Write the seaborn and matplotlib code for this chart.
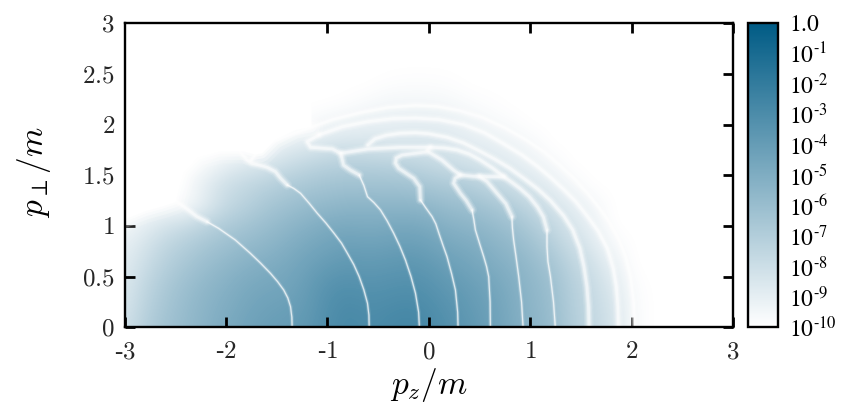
import numpy as np
import pandas as pd
import matplotlib
matplotlib.use('Agg')
import matplotlib.pyplot as plt
import seaborn as sns

# log10 of the yield, rows go up from p_perp = 0 in steps of 0.2
pz_grid = [-3.0, -2.8, -2.6, -2.4, -2.2, -2.0, -1.8, -1.6, -1.4, -1.2, -1.0, -0.8, -0.6, -0.4, -0.2, 0.0,
           0.2, 0.4, 0.6, 0.8, 1.0, 1.2, 1.4, 1.6, 1.8, 2.0, 2.2, 2.4, 2.6, 2.8, 3.0]
pperp_grid = [0.0, 0.2, 0.4, 0.6, 0.8, 1.0, 1.2, 1.4, 1.6, 1.8, 2.0, 2.2, 2.4, 2.6, 2.8, 3.0]

row_00 = [-8.2, -7.0, -6.3, -5.8, -5.3, -4.8, -4.4, -4.1, -4.0, -3.7, -3.1, -2.8, -3.0, -2.8, -2.6, -2.9, -3.3, -3.7, -4.2, -4.8, -5.4, -5.9, -6.9, -7.6, -8.2, -9.7, -10, -10, -10, -10, -10]
row_02 = [-8.4, -7.3, -6.5, -5.9, -5.4, -5.0, -4.6, -4.3, -4.2, -3.9, -3.2, -2.9, -3.1, -3.0, -2.9, -3.1, -3.5, -3.9, -4.3, -4.9, -5.5, -6.0, -7.0, -7.7, -8.3, -9.7, -10, -10, -10, -10, -10]
row_04 = [-8.6, -7.5, -6.7, -6.1, -5.6, -5.2, -4.8, -4.6, -4.5, -4.0, -3.4, -3.2, -3.4, -3.3, -3.2, -3.4, -3.8, -4.1, -4.5, -5.0, -5.6, -6.1, -7.1, -7.8, -8.6, -9.8, -10, -10, -10, -10, -10]
row_06 = [-8.8, -7.9, -7.1, -6.5, -6.0, -5.6, -5.2, -5.0, -4.7, -4.3, -3.9, -3.7, -3.8, -3.7, -3.6, -3.8, -4.2, -4.5, -4.9, -5.3, -5.8, -6.4, -7.4, -8.1, -9.0, -10, -10, -10, -10, -10, -10]
row_08 = [-9.0, -8.3, -7.5, -7.0, -6.5, -6.1, -5.8, -5.5, -5.1, -4.7, -4.4, -4.2, -4.3, -4.2, -4.1, -4.3, -4.7, -4.9, -5.3, -5.7, -6.2, -7.0, -7.9, -8.6, -9.6, -10, -10, -10, -10, -10, -10]
row_10 = [-9.5, -8.9, -8.3, -7.8, -7.3, -6.8, -6.4, -6.0, -5.6, -5.2, -4.9, -4.8, -4.9, -4.8, -4.7, -4.9, -5.3, -5.5, -5.8, -6.2, -6.8, -7.6, -8.4, -9.1, -10, -10, -10, -10, -10, -10, -10]
row_12 = [-10, -9.8, -9.6, -9.8, -8.8, -7.7, -7.2, -6.6, -6.2, -5.9, -5.7, -5.5, -5.5, -5.5, -5.5, -5.7, -6.0, -6.2, -6.5, -7.0, -7.6, -8.3, -8.9, -9.5, -10, -10, -10, -10, -10, -10, -10]
row_14 = [-10, -10, -10, -9.8, -8.8, -8.0, -7.6, -7.2, -6.9, -6.6, -6.4, -6.3, -6.3, -6.3, -6.4, -6.6, -6.8, -7.0, -7.5, -8.0, -8.5, -9.0, -9.6, -10, -10, -10, -10, -10, -10, -10, -10]
row_16 = [-10, -10, -10, -10, -9.7, -9.0, -8.6, -8.4, -7.9, -7.5, -7.2, -7.1, -7.1, -7.2, -7.3, -7.6, -7.9, -8.2, -8.5, -8.8, -9.2, -9.6, -10, -10, -10, -10, -10, -10, -10, -10, -10]
row_18 = [-10, -10, -10, -10, -10, -10, -9.9, -9.6, -8.9, -8.7, -8.4, -8.3, -8.4, -8.5, -8.5, -8.5, -8.6, -8.8, -9.0, -9.3, -9.6, -10, -10, -10, -10, -10, -10, -10, -10, -10, -10]
row_20 = [-10, -10, -10, -10, -10, -10, -10, -10, -10, -9.8, -9.4, -9.2, -9.0, -9.0, -8.9, -8.9, -9.0, -9.3, -9.6, -9.8, -10, -10, -10, -10, -10, -10, -10, -10, -10, -10, -10]
row_22 = [-10, -10, -10, -10, -10, -10, -10, -10, -10, -10, -10, -9.9, -9.7, -9.5, -9.5, -9.5, -9.6, -9.8, -9.9, -10, -10, -10, -10, -10, -10, -10, -10, -10, -10, -10, -10]
row_24 = [-10, -10, -10, -10, -10, -10, -10, -10, -10, -10, -10, -10, -10, -9.9, -9.85, -9.85, -9.9, -10, -10, -10, -10, -10, -10, -10, -10, -10, -10, -10, -10, -10, -10]
row_26 = [-10] * 31
row_28 = [-10] * 31
row_30 = [-10] * 31

# upper rim of the two left lobes, everything above it is blank
edge_pz = [-3.0, -2.8, -2.62, -2.5, -2.47, -2.42, -2.28, -2.06, -1.83, -1.72, -1.65, -1.52, -1.32, -1.16]
edge_pperp = [1.07, 1.15, 1.2, 1.24, 1.36, 1.53, 1.68, 1.74, 1.74, 1.71, 1.72, 1.85, 1.95, 1.98]

# nodes of the spectrum: thin in the bright part, broad in the pale part
thin_curves = {
    'n1': ([-1.347, -1.35, -1.363, -1.39, -1.43, -1.49, -1.561, -1.66, -1.759, -1.908, -2.073, -2.188],
           [0, 0.1, 0.204, 0.29, 0.368, 0.45, 0.533, 0.635, 0.73, 0.862, 0.977, 1.043]),
    'n2': ([-0.587, -0.59, -0.604, -0.64, -0.686, -0.74, -0.802, -0.86, -0.934, -1.015, -1.099, -1.18, -1.264, -1.33, -1.396],
           [0, 0.12, 0.237, 0.37, 0.5, 0.62, 0.73, 0.83, 0.928, 1.03, 1.125, 1.225, 1.322, 1.37, 1.405]),
    'n3': ([-0.092, -0.1, -0.131, -0.175, -0.23, -0.285, -0.345, -0.41, -0.476, -0.54, -0.604, -0.64, -0.686],
           [0, 0.15, 0.336, 0.5, 0.664, 0.8, 0.927, 1.05, 1.158, 1.23, 1.289, 1.4, 1.503]),
    'n4': ([0.289, 0.285, 0.263, 0.225, 0.18, 0.14, 0.1, 0.07, 0.033, -0.03, -0.082],
           [0, 0.15, 0.368, 0.53, 0.697, 0.81, 0.928, 1.02, 1.092, 1.18, 1.257]),
    'n5': ([0.608, 0.605, 0.591, 0.57, 0.542, 0.5, 0.46, 0.445, 0.427], [0, 0.25, 0.5, 0.6, 0.697, 0.83, 0.96, 1.06, 1.158]),
    'n6': ([0.93, 0.915, 0.887, 0.86, 0.837, 0.825, 0.82], [0, 0.25, 0.5, 0.7, 0.862, 0.98, 1.092]),
    'n7': ([1.248, 1.23, 1.2, 1.175, 1.166, 1.166], [0, 0.25, 0.5, 0.65, 0.796, 0.96]),
}
wide_curves = {
    'n1_top': ([-2.188, -2.29, -2.37, -2.47, -2.55], [1.043, 1.095, 1.158, 1.23, 1.3]),
    'n2_top': ([-1.396, -1.46, -1.512, -1.594, -1.67, -1.743, -1.792, -1.85, -1.9], [1.405, 1.47, 1.536, 1.579, 1.6, 1.618, 1.651, 1.72, 1.8]),
    'n3_top': ([-0.686, -0.77, -0.84, -0.868, -0.95, -1.165, -1.198, -1.083], [1.503, 1.55, 1.6, 1.717, 1.76, 1.776, 1.832, 1.9]),
    'n4_top': ([-0.082, -0.089, -0.148, -0.296, -0.328, -0.32, -0.263, -0.15, -0.033, 0.016], [1.257, 1.388, 1.47, 1.569, 1.62, 1.67, 1.70, 1.715, 1.73, 1.776]),
    'n5_top': ([0.427, 0.37, 0.312, 0.246, 0.26, 0.312, 0.44, 0.575, 0.74], [1.158, 1.25, 1.322, 1.421, 1.47, 1.503, 1.49, 1.487, 1.487]),
    'n5_side': ([0.0, 0.13, 0.246, 0.312], [1.73, 1.65, 1.55, 1.503]),
    'n6_top': ([0.82, 0.76, 0.673, 0.575, 0.5], [1.092, 1.22, 1.322, 1.437, 1.49]),
    'inner': ([1.166, 1.13, 1.07, 0.99, 0.9, 0.82, 0.74, 0.63, 0.51, 0.4, 0.28, 0.15, 0.016, -0.28, -0.6, -0.868],
              [0.96, 1.09, 1.19, 1.29, 1.37, 1.43, 1.487, 1.57, 1.65, 1.71, 1.75, 1.77, 1.776, 1.776, 1.76, 1.717]),
    'ring_a': ([1.58, 1.575, 1.56, 1.53, 1.49, 1.42, 1.33, 1.2, 1.08, 0.95, 0.8, 0.65, 0.5, 0.34, 0.18, 0.0, -0.13, -0.28, -0.42, -0.53, -0.6],
               [0, 0.2, 0.4, 0.6, 0.78, 0.96, 1.1, 1.25, 1.36, 1.46, 1.57, 1.66, 1.74, 1.82, 1.875, 1.91, 1.92, 1.915, 1.895, 1.86, 1.8]),
    'ring_b': ([1.87, 1.865, 1.85, 1.82, 1.76, 1.67, 1.56, 1.45, 1.33, 1.2, 1.07, 0.92, 0.74, 0.55, 0.345, 0.1, -0.13, -0.35, -0.6, -0.85, -1.083],
               [0, 0.2, 0.4, 0.58, 0.78, 0.95, 1.1, 1.24, 1.36, 1.48, 1.59, 1.7, 1.81, 1.92, 2.0, 2.05, 2.065, 2.06, 2.03, 1.98, 1.9]),
    'ring_c': ([2.03, 2.02, 1.99, 1.94, 1.87, 1.78, 1.68, 1.56, 1.43, 1.29, 1.14, 0.96, 0.75, 0.53, 0.3, 0.08, -0.13, -0.4, -0.67, -0.95, -1.2, -1.45, -1.66, -1.75],
               [0, 0.25, 0.5, 0.7, 0.88, 1.04, 1.18, 1.33, 1.47, 1.6, 1.73, 1.85, 1.97, 2.07, 2.14, 2.18, 2.19, 2.17, 2.12, 2.05, 1.96, 1.87, 1.78, 1.65]),
}

xticks = [-3, -2, -1, 0, 1, 2, 3]
xtick_labels = ['-$3$', '-$2$', '-$1$', '$0$', '$1$', '$2$', '$3$']
yticks = [0, 0.5, 1, 1.5, 2, 2.5, 3]
ytick_labels = ['0', '0.5', '1', '1.5', '2', '2.5', '3']
cbar_ticks = [-10, -9, -8, -7, -6, -5, -4, -3, -2, -1, 0]
cbar_labels = ['10^{\\text{-}10}', '10^{\\text{-}9}', '10^{\\text{-}8}', '10^{\\text{-}7}', '10^{\\text{-}6}',
               '10^{\\text{-}5}', '10^{\\text{-}4}', '10^{\\text{-}3}', '10^{\\text{-}2}', '10^{\\text{-}1}', '1.0']

sns.set_theme(style='ticks')
plt.rcParams['mathtext.fontset'] = 'cm'
plt.rcParams['font.family'] = ['Liberation Serif', 'DejaVu Serif']

W, H = 844, 413
fig = plt.figure(figsize=(W / 100, H / 100), dpi=100)
ax = fig.add_axes([124.5 / W, 1 - 327.3 / H, 608.5 / W, 304 / H])
cax = fig.add_axes([748 / W, 1 - 327.3 / H, 30 / W, 304.3 / H])

cmap = sns.blend_palette(['white', '#005b85'], as_cmap=True)
field = np.array([row_00, row_02, row_04, row_06, row_08, row_10, row_12, row_14,
                  row_16, row_18, row_20, row_22, row_24, row_26, row_28, row_30])
dx = pz_grid[1] - pz_grid[0]
dy = pperp_grid[1] - pperp_grid[0]
im = ax.imshow(field, origin='lower', aspect='auto', cmap=cmap, vmin=-10, vmax=0, interpolation='bicubic',
               extent=[pz_grid[0] - dx / 2, pz_grid[-1] + dx / 2, pperp_grid[0] - dy / 2, pperp_grid[-1] + dy / 2])


def draw_curves(curves, strokes):
    for name, (xs, ys) in curves.items():
        df = pd.DataFrame({'pz': xs, 'pperp': ys})
        for lw, alpha in strokes:
            sns.lineplot(data=df, x='pz', y='pperp', sort=False, estimator=None, color='white', lw=lw, alpha=alpha,
                         solid_capstyle='round', solid_joinstyle='round', ax=ax)


ax.fill_between(edge_pz, edge_pperp, 3, color='white', lw=0)
draw_curves({'edge': (edge_pz, edge_pperp)}, [(18, 0.15), (13, 0.25), (8, 0.4), (4, 0.6)])
draw_curves(wide_curves, [(7, 0.12), (5, 0.2), (3.5, 0.28), (2, 0.5)])
draw_curves(thin_curves, [(3, 0.12), (1.6, 0.28), (0.8, 0.7)])

ax.set_xlim(-3, 3)
ax.set_ylim(0, 3)
ax.set_xticks(xticks)
ax.set_xticklabels(xtick_labels)
ax.set_yticks(yticks)
ax.set_yticklabels(['$%s$' % t for t in ytick_labels])
ax.tick_params(direction='in', length=7.2, width=2, top=True, right=True, labelsize=18, color='black')
ax.tick_params(axis='x', pad=10)
ax.tick_params(axis='y', pad=7)
ax.set_xlabel('$p_z/m$', fontsize=24, labelpad=2, color='black')
ax.set_ylabel('$p_\\perp/m$', fontsize=24, labelpad=21, color='black', y=0.51)
for s in ax.spines.values():
    s.set_linewidth(1.7)
    s.set_color('black')
    s.set_visible(True)
    s.set_zorder(5)

cb = fig.colorbar(im, cax=cax)
cb.set_ticks(cbar_ticks)
cb.set_ticklabels(['$%s$' % t for t in cbar_labels])
cb.outline.set_linewidth(1.7)
cb.outline.set_edgecolor('black')
cax.tick_params(direction='in', length=5.8, width=1.4, left=True, right=True, labelsize=17, pad=8, color='black')
for t in cax.get_yticklabels():
    t.set_math_fontfamily('stix')
    t.set_color('black')

fig.savefig('out.png', dpi=100)
